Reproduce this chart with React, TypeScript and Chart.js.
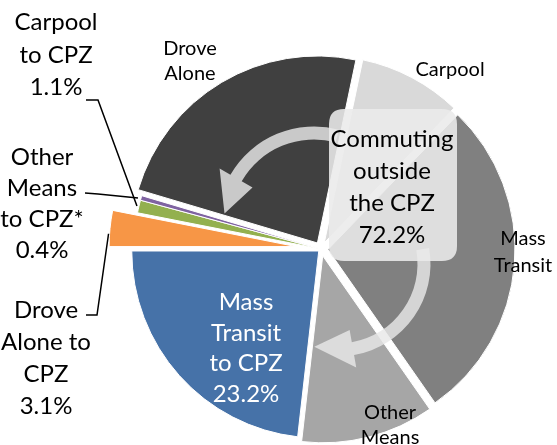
import React, { useEffect, useRef } from "react";
import { Chart, registerables } from "chart.js";

Chart.register(...registerables);

// ---- data ----
const categories = [
  "Mass Transit to CPZ",
  "Drove Alone to CPZ",
  "Carpool to CPZ",
  "Other Means to CPZ*",
  "Drove Alone",
  "Carpool",
  "Mass Transit",
  "Other Means",
];
const shares = [23.2, 3.1, 1.1, 0.4, 23.7, 8.9, 28.1, 11.5];
const sliceColors = ["#4672a8", "#f79646", "#93b04f", "#7f63a1", "#404040", "#d9d9d9", "#808080", "#a6a6a6"];
const outsideTotalLines = ["Commuting", "outside", "the CPZ", "72.2%"];
const blueLines = ["Mass", "Transit", "to CPZ", "23.2%"];
const carpoolCpzLines = ["Carpool", "to CPZ", "1.1%"];
const otherCpzLines = ["Other", "Means", "to CPZ*", "0.4%"];
const droveCpzLines = ["Drove", "Alone to", "CPZ", "3.1%"];
const droveLines = ["Drove", "Alone"];
const carpoolLines = ["Carpool"];
const massLines = ["Mass", "Transit"];
const otherLines = ["Other", "Means"];

// ---- style / layout ----
const explode = [3, 25, 0, 0, 7, 7, 7, 7];
const FONT = "Lato";
const BIG = 24;
const SMALL = 20;

const explodePlugin = {
  id: "explode",
  afterDatasetsUpdate(chart: any) {
    const meta = chart.getDatasetMeta(0);
    meta.data.forEach((arc: any, i: number) => {
      const mid = (arc.startAngle + arc.endAngle) / 2;
      arc.x += Math.cos(mid) * explode[i];
      arc.y += Math.sin(mid) * explode[i];
    });
  },
};

const deg = (d: number) => (d * Math.PI) / 180;

function drawArrow(ctx: CanvasRenderingContext2D, cx: number, cy: number, r: number, w: number, a0: number, a1: number, tip: number, head: number) {
  // band from a0 to a1 (degrees), head base at a1, tip at tip
  const ccw = a1 < a0;
  ctx.beginPath();
  ctx.arc(cx, cy, r + w / 2, deg(a0), deg(a1), ccw);
  ctx.lineTo(cx + Math.cos(deg(a1)) * (r + head), cy + Math.sin(deg(a1)) * (r + head));
  ctx.lineTo(cx + Math.cos(deg(tip)) * r, cy + Math.sin(deg(tip)) * r);
  ctx.lineTo(cx + Math.cos(deg(a1)) * (r - head), cy + Math.sin(deg(a1)) * (r - head));
  ctx.arc(cx, cy, r - w / 2, deg(a1), deg(a0), !ccw);
  ctx.closePath();
  ctx.fill();
}

function lines(ctx: CanvasRenderingContext2D, arr: string[], cx: number, y0: number, lh: number, size: number, color: string) {
  ctx.font = `${size}px ${FONT}`;
  ctx.fillStyle = color;
  ctx.textAlign = "center";
  ctx.textBaseline = "alphabetic";
  arr.forEach((t, i) => ctx.fillText(t, cx, y0 + i * lh));
}

function roundRect(ctx: CanvasRenderingContext2D, x: number, y: number, w: number, h: number, r: number) {
  ctx.beginPath();
  ctx.moveTo(x + r, y);
  ctx.lineTo(x + w - r, y);
  ctx.quadraticCurveTo(x + w, y, x + w, y + r);
  ctx.lineTo(x + w, y + h - r);
  ctx.quadraticCurveTo(x + w, y + h, x + w - r, y + h);
  ctx.lineTo(x + r, y + h);
  ctx.quadraticCurveTo(x, y + h, x, y + h - r);
  ctx.lineTo(x, y + r);
  ctx.quadraticCurveTo(x, y, x + r, y);
  ctx.closePath();
}

function arcPoint(arc: any, frac: number, extra: number) {
  const a = arc.startAngle + (arc.endAngle - arc.startAngle) * frac;
  const r = arc.outerRadius + extra;
  return [arc.x + Math.cos(a) * r, arc.y + Math.sin(a) * r];
}

const overlayPlugin = {
  id: "overlay",
  afterDatasetsDraw(chart: any) {
    const ctx: CanvasRenderingContext2D = chart.ctx;
    const arcs = chart.getDatasetMeta(0).data;
    ctx.save();
    // curved arrows
    ctx.fillStyle = "rgba(232,232,232,0.82)";
    drawArrow(ctx, 314, 223, 90, 13, 285, 210, 186, 19);
    drawArrow(ctx, 338, 264, 86, 13, -10, 80, 106, 19);
    // box
    roundRect(ctx, 329, 109, 128, 152, 15);
    ctx.fillStyle = "rgba(235,235,235,0.88)";
    ctx.fill();
    // texts
    lines(ctx, outsideTotalLines, 392, 147, 32, BIG, "#000");
    lines(ctx, blueLines, 246, 310, 30.5, BIG, "#fff");
    lines(ctx, carpoolCpzLines, 56, 30, 32.5, BIG, "#000");
    lines(ctx, otherCpzLines, 42, 165, 31, BIG, "#000");
    lines(ctx, droveCpzLines, 46, 318, 32, BIG, "#000");
    lines(ctx, droveLines, 190, 55, 25, SMALL, "#000");
    lines(ctx, carpoolLines, 450, 76, 25, SMALL, "#000");
    lines(ctx, massLines, 523, 245, 27, SMALL, "#000");
    lines(ctx, otherLines, 390, 419, 25, SMALL, "#000");
    // leader lines
    ctx.strokeStyle = "#000";
    ctx.lineWidth = 1.5;
    const g = arcPoint(arcs[2], 0.5, 2);
    ctx.beginPath();
    ctx.moveTo(86, 100);
    ctx.lineTo(98, 100);
    ctx.lineTo(g[0], g[1]);
    ctx.stroke();
    const p = arcPoint(arcs[3], 0.3, 3);
    ctx.beginPath();
    ctx.moveTo(85, 193);
    ctx.lineTo(98, 194);
    ctx.lineTo(p[0], p[1]);
    ctx.stroke();
    const o = arcPoint(arcs[1], 0.35, 1);
    ctx.beginPath();
    ctx.moveTo(86, 315);
    ctx.lineTo(97, 315);
    ctx.lineTo(o[0], o[1]);
    ctx.stroke();
    ctx.restore();
  },
};

export default function App() {
  const ref = useRef<HTMLCanvasElement>(null);
  useEffect(() => {
    document.body.style.margin = "0";
    const rotation = 270 - shares[0] * 3.6;
    const chart = new Chart(ref.current as HTMLCanvasElement, {
      type: "pie",
      data: {
        labels: categories,
        datasets: [
          {
            data: shares,
            backgroundColor: sliceColors,
            borderColor: "#ffffff",
            borderWidth: 1,
            radius: 187,
          } as any,
        ],
      },
      options: {
        responsive: false,
        animation: false,
        devicePixelRatio: 1,
        rotation,
        events: [],
        layout: { padding: { left: 85, top: 53, right: 0, bottom: 0 } },
        plugins: { legend: { display: false }, tooltip: { enabled: false } },
      },
      plugins: [explodePlugin, overlayPlugin],
    });
    return () => chart.destroy();
  }, []);
  return <canvas ref={ref} width={557} height={445} style={{ display: "block" }} />;
}
